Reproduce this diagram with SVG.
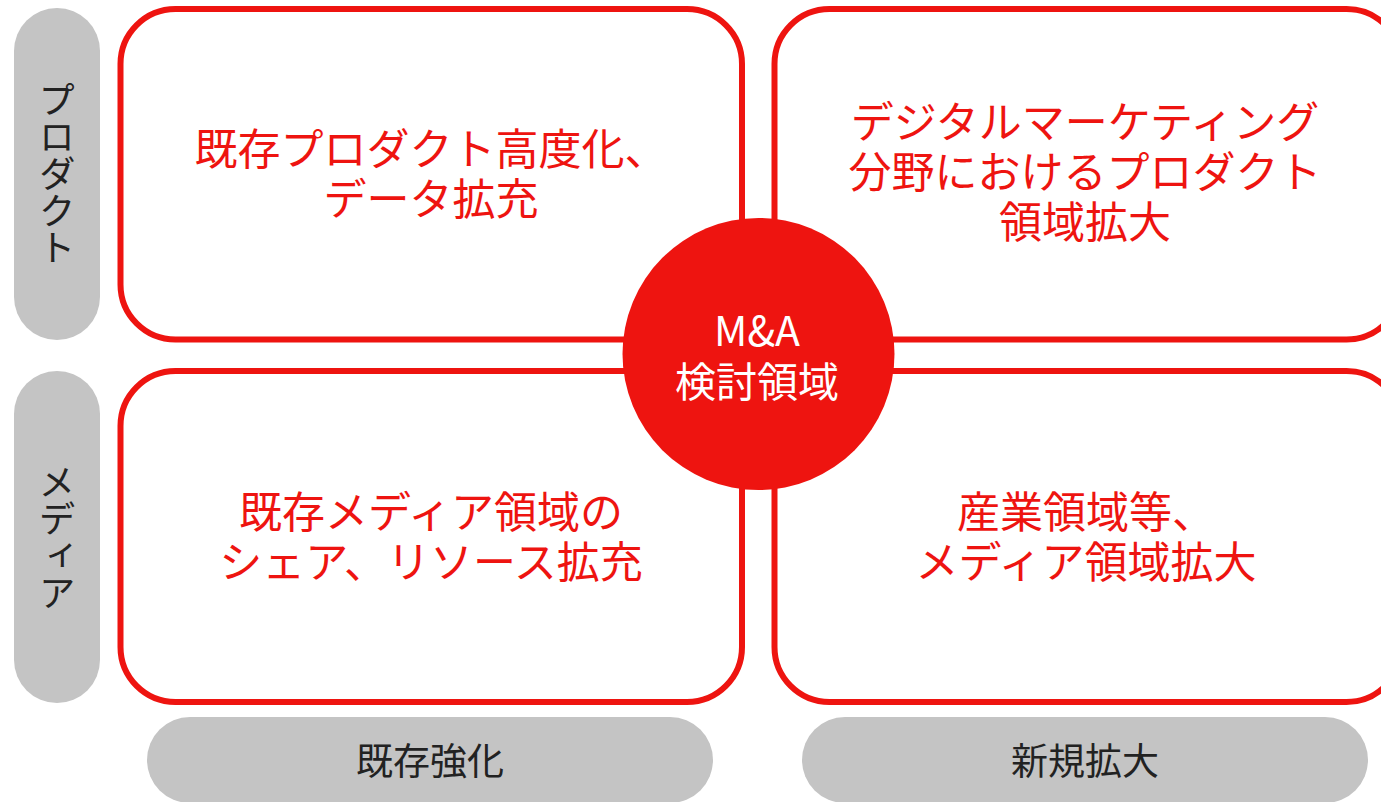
<svg xmlns="http://www.w3.org/2000/svg" width="1381" height="802" viewBox="0 0 1381 802">
<style>
.box{fill:#fff;stroke:#ee1410;stroke-width:6}
.pill{fill:#c4c4c4}
.rt{font-family:"Noto Sans CJK JP","Noto Sans",sans-serif;font-size:43px;fill:#ee1410;text-anchor:middle}
.lt{font-family:"Noto Sans CJK JP","Noto Sans",sans-serif;font-size:37px;fill:#222;text-anchor:middle}
.vt{font-family:"Noto Sans CJK JP","Noto Sans",sans-serif;font-size:37px;fill:#222;text-anchor:middle;writing-mode:vertical-rl}
.ct{font-family:"Noto Sans CJK JP","Noto Sans",sans-serif;font-size:41px;fill:#fff;text-anchor:middle}
</style>
<rect width="1381" height="802" fill="#fff"/>
<g id="label-product">
<rect class="pill" x="14" y="8" width="86" height="332" rx="43"/>
<text class="vt" x="57" y="174">プロダクト</text>
</g>
<g id="label-media">
<rect class="pill" x="14" y="371" width="86" height="332" rx="43"/>
<text class="vt" x="57" y="537">メディア</text>
</g>
<g id="label-existing">
<rect class="pill" x="147" y="717" width="566" height="86" rx="43"/>
<text class="lt" x="430" y="775">既存強化</text>
</g>
<g id="label-new">
<rect class="pill" x="802" y="717" width="566" height="86" rx="43"/>
<text class="lt" x="1085" y="775">新規拡大</text>
</g>
<g id="box-tl">
<rect class="box" x="120.5" y="9" width="621.5" height="330.5" rx="55"/>
<text class="rt"><tspan x="431" y="165">既存プロダクト高度化、</tspan><tspan x="431" y="215">データ拡充</tspan></text>
</g>
<g id="box-tr">
<rect class="box" x="774.5" y="9" width="627" height="330.5" rx="55"/>
<text class="rt"><tspan x="1085" y="138">デジタルマーケティング</tspan><tspan x="1085" y="188">分野におけるプロダクト</tspan><tspan x="1085" y="238">領域拡大</tspan></text>
</g>
<g id="box-bl">
<rect class="box" x="120.5" y="371" width="621.5" height="331" rx="55"/>
<text class="rt"><tspan x="431" y="528">既存メディア領域の</tspan><tspan x="431" y="578">シェア、リソース拡充</tspan></text>
</g>
<g id="box-br">
<rect class="box" x="774.5" y="371" width="627" height="331" rx="55"/>
<text class="rt"><tspan x="1086" y="528">産業領域等、</tspan><tspan x="1086" y="578">メディア領域拡大</tspan></text>
</g>
<g id="center">
<circle cx="758.5" cy="354" r="136" fill="#ee1410"/>
<text class="ct"><tspan x="757" y="346">M&amp;A</tspan><tspan x="757" y="397">検討領域</tspan></text>
</g>
<g id="connectors"/>
</svg>
